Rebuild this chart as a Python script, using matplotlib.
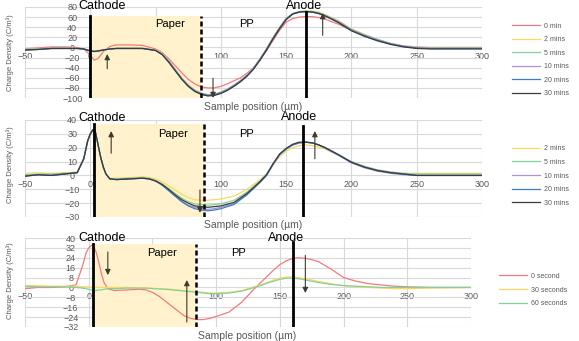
import matplotlib
matplotlib.use('Agg')
import matplotlib.pyplot as plt

plt.rcParams['font.family'] = ['Liberation Sans', 'DejaVu Sans']

# ---- data ----
x1 = [-50, -40, -30, -20, -10, -5, 0, 3, 6, 10, 15, 20, 30, 40,
      50, 55, 60, 65, 70, 75, 80, 85, 90, 95, 100, 105, 110, 115, 120, 125,
      130, 135, 140, 145, 150, 155, 160, 165, 170, 175, 180, 185, 190,
      200, 210, 220, 230, 240, 250, 260, 280, 300]

p1_0min = [-3, -1, 1, 1, 0, -3, -15, -25, -22, -8, 2, 5, 5, 4,
           -3, -10, -22, -36, -50, -63, -72, -78, -80, -80, -77, -72, -66, -60, -51, -40,
           -25, -6, 14, 34, 50, 57, 60, 61, 61, 59, 56, 51, 46,
           34, 24, 15, 8, 3, 1, 0, 0, 0]
p1_2min = [-4, -3, -2, -1, -2, -3, -6, -7, -6, -4, -2, -1, -1, -1,
           -5, -12, -26, -43, -60, -74, -84, -90, -93, -92, -88, -82, -74, -65, -54, -40,
           -22, -2, 20, 40, 57, 67, 71, 72, 72, 70, 65, 59, 53,
           37, 26, 16, 8, 2, 0, -1, -1, -1]
p1_5min = [-4, -3, -2, -1, -2, -3, -7, -8, -7, -5, -3, -2, -2, -2,
           -5, -13, -27, -44, -61, -75, -85, -91, -94, -93, -89, -83, -75, -66, -55, -41,
           -23, -3, 19, 39, 57, 67, 71, 72, 71, 69, 64, 58, 52,
           36, 25, 16, 8, 2, -1, -1, -1, -1]
p1_10min = [-5, -4, -2, -2, -2, -3, -7, -8, -7, -5, -3, -2, -2, -2,
            -6, -13, -27, -44, -61, -75, -85, -91, -94, -93, -89, -83, -75, -66, -55, -41,
            -23, -3, 19, 39, 57, 67, 70, 71, 70, 68, 63, 57, 51,
            35, 24, 15, 7, 2, -1, -2, -2, -2]
p1_20min = [-5, -4, -2, -2, -2, -3, -7, -8, -7, -5, -3, -2, -2, -2,
            -6, -14, -28, -45, -62, -76, -86, -92, -95, -94, -90, -84, -76, -67, -56, -42,
            -24, -4, 18, 38, 56, 66, 70, 71, 70, 67, 62, 56, 50,
            34, 23, 14, 7, 2, -1, -2, -2, -2]
p1_30min = [-5, -4, -2, -2, -2, -3, -7, -8, -7, -5, -3, -2, -2, -2,
            -6, -14, -29, -46, -63, -77, -87, -93, -96, -95, -91, -85, -77, -68, -57, -43,
            -25, -5, 17, 37, 55, 66, 70, 71, 70, 67, 62, 56, 49,
            33, 22, 13, 6, 1, -2, -3, -3, -3]

x2 = [-50, -40, -30, -20, -10, -5, -2, 0, 2, 4, 6, 8, 10, 12, 15, 20, 30, 40, 45,
      50, 55, 60, 65, 70, 75, 80, 85, 90, 95, 100, 110, 120, 130,
      135, 140, 145, 150, 155, 160, 165, 170, 175, 180,
      190, 200, 210, 220, 230, 240, 250, 270, 300]

p2_2min = [1.5, 2, 1.5, 2, 2.5, 12, 24, 29, 32, 30, 21, 12, 5, 1, -2, -2, -1.5, -1, -1.5,
           -2.5, -4.5, -7.5, -10.5, -13.5, -16, -17.5, -18, -18, -17.5, -17, -15, -10, -3,
           1, 7.5, 13.5, 17.5, 20, 21.5, 22, 21.5, 20.5, 19,
           14.5, 10, 6.5, 4, 2.5, 1.5, 1.5, 1.5, 1.5]
p2_5min = [0.5, 1, 1, 1.5, 2, 12, 25, 30, 33, 31, 22, 13, 6, 1, -2.5, -2.5, -2, -1.5, -2,
           -3.5, -6, -9.5, -13, -16.5, -19, -20.5, -21, -21.5, -21, -20.5, -18, -12, -4,
           1, 8.5, 15, 19.5, 22, 23.5, 24, 23.5, 22, 20,
           15, 10, 6.5, 4, 2.5, 1.5, 1, 1, 1]
p2_10min = [-0.5, 0.5, 0, 1, 2, 12, 25, 30, 33, 31, 22, 13, 6, 1, -2.5, -3, -2.5, -2, -2.5,
            -4, -7, -10.5, -14.5, -18.5, -21.5, -23, -24, -24.5, -24, -23, -20.5, -13.5, -5,
            0, 8, 15, 19, 22, 23.5, 24, 23.5, 22, 19.5,
            14.5, 9, 5.5, 3, 1.5, 0.5, 0, 0, 0]
p2_20min = [-0.5, 0.5, 0, 1, 2, 12, 25, 30, 33, 31, 22, 13, 6, 1, -2.5, -3, -2.5, -2, -2.5,
            -4, -7, -11, -15, -19, -22, -24, -25, -25.5, -25, -24, -21, -14, -5,
            0, 8, 15, 19, 22, 23.5, 24, 23.5, 22, 20,
            15, 9.5, 6, 3.5, 2, 1, 0, 0, 0]
p2_30min = [-0.5, 0.5, 0, 1, 2, 12, 25, 30, 33, 31, 22, 13, 6, 1, -2.5, -3, -2.5, -2, -2.5,
            -4, -6.5, -10, -14, -17.5, -20, -22, -22.5, -23, -22.5, -22, -19.5, -13, -4.5,
            0.5, 8.5, 15.5, 19.5, 22.5, 24, 24, 23.5, 22, 20,
            15, 9.5, 6, 3.5, 2, 1, 0, 0, 0]

x3 = x2

p3_0s = [-1, 0, 0, 0.5, 2, 17, 28, 32, 34, 33, 28, 20, 11, 4, -1, -2.5, -2, -1.5, -2,
         -4, -7, -11, -15, -19, -23, -25, -26, -26, -25, -23.5, -20, -12, -1,
         4, 9, 14, 18.5, 21.5, 23.5, 24, 23.5, 22.5, 21,
         15, 8, 5, 3, 2, 1, 0.5, 0, 0]
p3_30s = [1.5, 1.5, 1, 1, 1, 0.5, 0.5, 0.5, 0, 0, 0, 0, 0, 0, 0, 0, 0, -0.5, -0.5,
          -0.5, -1, -1.2, -1.5, -2, -2.5, -3, -3.5, -4, -4.5, -4.5, -4, -2.5, 0.5,
          2, 4, 6, 7.5, 8.5, 8.5, 8, 7, 6, 5,
          3, 1.5, 0.5, 0, -0.5, -1, -1, -0.5, 0]
p3_60s = [1, 0.5, 0.5, 0.5, 0, -0.5, -1, -1.5, -2, -2.5, -2.5, -2, -2, -1.5, -1, -1, -0.5, -0.5, -0.5,
          -1, -1.2, -1.5, -2, -2.5, -3, -3.5, -4, -4.5, -5, -5, -4.5, -3, 0,
          1.5, 3.5, 5, 6.5, 7.5, 7.5, 7, 6, 5, 4,
          2.5, 1.5, 1, 0.5, 0, 0, 0, 0, 0]

xticks = [-50, 0, 50, 100, 150, 200, 250, 300]
yticks1 = [-100, -80, -60, -40, -20, 0, 20, 40, 60, 80]
yticks2 = [-30, -20, -10, 0, 10, 20, 30, 40]
yticks3 = [-32, -24, -16, -8, 0, 8, 16, 24, 32, 40]

c_red, c_yel, c_grn = '#f47a7c', '#ffd760', '#7fd39a'
c_pur, c_blu, c_gry = '#a993d6', '#3f7fc0', '#3c3c3c'
txt_gray = '#595959'
arrow_c = '#3d3a2a'

fig = plt.figure(figsize=(5.79, 3.41), dpi=100)
W, H = 579, 341
ax1 = fig.add_axes([25 / W, 1 - 98 / H, 457 / W, 91 / H])
ax2 = fig.add_axes([25 / W, 1 - 217 / H, 457 / W, 97 / H])
ax3 = fig.add_axes([25 / W, 1 - 327 / H, 446 / W, 89 / H])


def style(ax, yt):
    ax.set_xlim(-50, 300)
    ax.set_ylim(yt[0], yt[-1])
    ax.set_xticks(xticks)
    ax.set_yticks(yt)
    ax.grid(True, color='#d9d9d9', lw=0.8)
    ax.set_axisbelow(True)
    for s in ['top', 'right', 'bottom', 'left']:
        ax.spines[s].set_visible(False)
    ax.spines['bottom'].set_position(('data', 0))
    ax.spines['left'].set_position(('data', 0))
    ax.tick_params(length=0, labelsize=6.5, labelcolor=txt_gray)
    ax.tick_params(axis='x', pad=3)
    # y labels sit centred a little left of the x=0 line, like the original
    ax.tick_params(axis='y', pad=13)
    for t in ax.get_yticklabels():
        t.set_horizontalalignment('center')


def overlay(ax, cath, dash, anode, ybot, ytop, atop):
    ax.fill_between([cath, dash], ybot, ytop, color='#fff2cc', lw=0, zorder=1)
    ax.plot([cath, cath], [ybot, ytop], color='black', lw=2, zorder=4)
    ax.plot([dash, dash], [ybot, ytop], color='black', lw=1.8, ls=(0, (2, 1.2)), zorder=4)
    ax.plot([anode, anode], [ybot, atop], color='black', lw=2, zorder=4)


def arrow(ax, x, y0, y1):
    ax.annotate('', xy=(x, y1), xytext=(x, y0),
                arrowprops=dict(arrowstyle='-|>', color=arrow_c, lw=0.8,
                                mutation_scale=8, shrinkA=0, shrinkB=0), zorder=5)


def labels(ax, pos):
    for (x, y, s, fs) in pos:
        ax.text(x, y, s, fontsize=fs, va='center', ha='left', clip_on=False, zorder=6)


# ---- panel 1 ----
style(ax1, yticks1)
overlay(ax1, 0, 85, 165, -100, 62, 70)
for y, c, lab in [(p1_0min, c_red, '0 min'), (p1_2min, c_yel, '2 mins'),
                  (p1_5min, c_grn, '5 mins'), (p1_10min, c_pur, '10 mins'),
                  (p1_20min, c_blu, '20 mins'), (p1_30min, c_gry, '30 mins')]:
    ax1.plot(x1, y, color=c, lw=0.9, label=lab, zorder=2)
arrow(ax1, 13, -42, -13)
arrow(ax1, 94, -61, -100)
arrow(ax1, 178, 24, 68)
labels(ax1, [(-9, 81, 'Cathode', 9), (50, 47, 'Paper', 8), (114, 47, 'PP', 8), (150, 81, 'Anode', 9)])

# ---- panel 2 ----
style(ax2, yticks2)
overlay(ax2, 3, 87, 163, -30, 37, 36)
for y, c, lab in [(p2_2min, c_yel, '2 mins'), (p2_5min, c_grn, '5 mins'),
                  (p2_10min, c_pur, '10 mins'), (p2_20min, c_blu, '20 mins'),
                  (p2_30min, c_gry, '30 mins')]:
    ax2.plot(x2, y, color=c, lw=0.9, label=lab, zorder=2)
arrow(ax2, 16, 16, 32)
arrow(ax2, 84, -10.5, -27)
arrow(ax2, 172, 12, 32)
labels(ax2, [(-9, 41.5, 'Cathode', 9), (52, 30, 'Paper', 8), (114, 30, 'PP', 8), (146, 42, 'Anode', 9)])

# ---- panel 3 ----
style(ax3, yticks3)
overlay(ax3, 3, 84, 160, -32, 35, 37)
for y, c, lab in [(p3_0s, c_red, '0 second'), (p3_30s, c_yel, '30 seconds'),
                  (p3_60s, c_grn, '60 seconds')]:
    ax3.plot(x3, y, color=c, lw=0.9, label=lab, zorder=2)
arrow(ax3, 15, 28.7, 10)
arrow(ax3, 77, -28, 6)
arrow(ax3, 170, 26, -4.5)
labels(ax3, [(-8, 40, 'Cathode', 9), (46, 28, 'Paper', 8), (112, 28, 'PP', 8), (141, 40, 'Anode', 9)])

# ---- legends and axis titles ----
for ax, xl, yc in [(ax1, 512, 60), (ax2, 512, 176), (ax3, 499, 290)]:
    ax.legend(loc='center left', bbox_to_anchor=(xl / W, 1 - yc / H),
              bbox_transform=fig.transFigure, frameon=False, fontsize=5,
              handlelength=4, labelspacing=0.95, handletextpad=0.6,
              borderpad=0, borderaxespad=0, labelcolor=txt_gray)

for yc in [53, 165, 281]:
    fig.text(10 / W, 1 - yc / H, 'Charge Density (C/m³)', rotation=90, fontsize=5.5,
             color=txt_gray, ha='center', va='center')
for xc, yc in [(253, 107), (253, 225), (247, 336)]:
    fig.text(xc / W, 1 - yc / H, 'Sample position (µm)', fontsize=7.5,
             color=txt_gray, ha='center', va='center')

fig.savefig('out.png', dpi=100)
